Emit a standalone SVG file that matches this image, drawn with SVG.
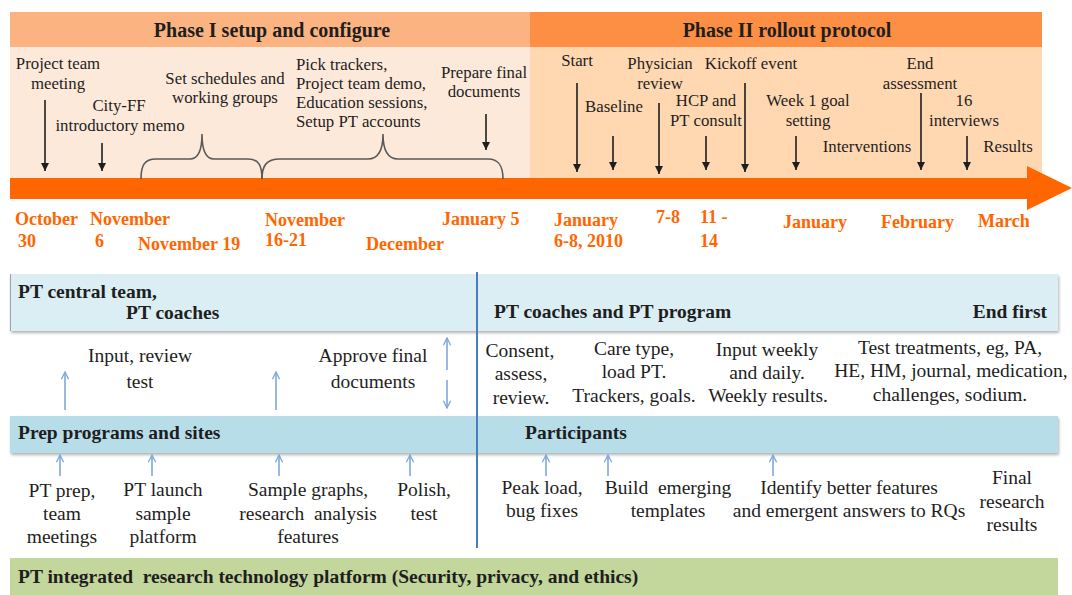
<svg xmlns="http://www.w3.org/2000/svg" width="1072" height="595" viewBox="0 0 1072 595">
  <defs>
    <style>
      .t { font-family: "Liberation Serif", "Times New Roman", serif; fill: #1e1e1e; }
      .s16 { font-size: 16.8px; }
      .s18 { font-size: 19.5px; }
      .b { font-weight: bold; }
      .m { text-anchor: middle; }
      .e { text-anchor: end; }
      .pre { white-space: pre; }
      .hdr { font-size: 20px; font-weight: bold; }
      .date { font-family: "Liberation Serif", "Times New Roman", serif; font-size: 18px; font-weight: bold; fill: #FF6600; }
      .blk { stroke: #1e1e1e; stroke-width: 1.6; fill: none; marker-end: url(#headBlack); }
      .blu { stroke: #7FA8DA; stroke-width: 1.6; fill: none; marker-end: url(#headBlue); }
      .brace { stroke: #5a5a5a; stroke-width: 1.6; fill: none; }
    </style>
    <marker id="headBlack" viewBox="0 0 10 10" refX="10" refY="5" markerWidth="8" markerHeight="9" orient="auto" markerUnits="userSpaceOnUse">
      <path d="M0,0 L10,5 L0,10 z" fill="#1e1e1e"/>
    </marker>
    <marker id="headBlue" viewBox="0 0 10 10" refX="9" refY="5" markerWidth="9" markerHeight="11" orient="auto" markerUnits="userSpaceOnUse">
      <path d="M1,1 L9,5 L1,9" fill="none" stroke="#7FA8DA" stroke-width="1.5"/>
    </marker>
    <filter id="shadow" x="-2%" y="-20%" width="104%" height="150%">
      <feDropShadow dx="1" dy="2" stdDeviation="1.5" flood-color="#000" flood-opacity="0.3"/>
    </filter>
  </defs>

  <rect width="1072" height="595" fill="#ffffff"/>

  <!-- Phase panels -->
  <g id="phase1">
    <rect x="10" y="47" width="520" height="131" fill="#FDE9D9"/>
    <rect x="10" y="12" width="520" height="35" fill="#FBB381"/>
    <text class="t hdr m" x="272" y="37">Phase I setup and configure</text>
  </g>
  <g id="phase2">
    <rect x="530" y="47" width="512" height="131" fill="#FFD8B2"/>
    <rect x="530" y="12" width="512" height="35" fill="#FD8F44"/>
    <text class="t hdr m" x="787" y="37">Phase II rollout protocol</text>
  </g>

  <!-- Timeline bar -->
  <g id="timeline">
    <rect x="10" y="178" width="1018" height="21" fill="#FF6600"/>
    <polygon points="1027,166 1072,188 1027,210" fill="#FF6600"/>
  </g>

  <!-- Phase I events -->
  <g id="ev-project-meeting">
    <text class="t s16 m" x="58" y="69">Project team</text>
    <text class="t s16 m" x="58" y="89">meeting</text>
  </g>
  <g id="ev-memo">
    <text class="t s16 m" x="119" y="111">City-FF</text>
    <text class="t s16 m" x="120" y="131">introductory memo</text>
  </g>
  <g id="ev-schedules">
    <text class="t s16 m" x="225" y="84">Set schedules and</text>
    <text class="t s16 m" x="225" y="103">working groups</text>
  </g>
  <g id="ev-trackers">
    <text class="t s16" x="296" y="70">Pick trackers,</text>
    <text class="t s16" x="296" y="89">Project team demo,</text>
    <text class="t s16" x="296" y="108">Education sessions,</text>
    <text class="t s16" x="296" y="127">Setup PT accounts</text>
  </g>
  <g id="ev-final-docs">
    <text class="t s16 m" x="484" y="78">Prepare final</text>
    <text class="t s16 m" x="484" y="97">documents</text>
  </g>

  <!-- Phase II events -->
  <g id="ev-start"><text class="t s16 m" x="577" y="66">Start</text></g>
  <g id="ev-baseline"><text class="t s16 m" x="614" y="112">Baseline</text></g>
  <g id="ev-physician">
    <text class="t s16 m" x="660" y="69">Physician</text>
    <text class="t s16 m" x="660" y="89">review</text>
  </g>
  <g id="ev-hcp">
    <text class="t s16 m" x="706" y="106">HCP and</text>
    <text class="t s16 m" x="706" y="126">PT consult</text>
  </g>
  <g id="ev-kickoff"><text class="t s16 m" x="751" y="69">Kickoff event</text></g>
  <g id="ev-week1">
    <text class="t s16 m" x="808" y="106">Week 1 goal</text>
    <text class="t s16 m" x="808" y="126">setting</text>
  </g>
  <g id="ev-interventions"><text class="t s16 m" x="867" y="152">Interventions</text></g>
  <g id="ev-end">
    <text class="t s16 m" x="920" y="69">End</text>
    <text class="t s16 m" x="920" y="89">assessment</text>
  </g>
  <g id="ev-interviews">
    <text class="t s16 m" x="964" y="106">16</text>
    <text class="t s16 m" x="964" y="126">interviews</text>
  </g>
  <g id="ev-results"><text class="t s16 m" x="1008" y="152">Results</text></g>

  <!-- Dates under the timeline -->
  <g id="dates">
    <text class="date" x="15" y="225">October</text>
    <text class="date" x="18" y="247">30</text>
    <text class="date" x="90" y="225">November</text>
    <text class="date" x="95" y="247">6</text>
    <text class="date" x="138" y="250">November 19</text>
    <text class="date" x="265" y="226">November</text>
    <text class="date" x="265" y="246">16-21</text>
    <text class="date" x="366" y="250">December</text>
    <text class="date" x="442" y="225">January 5</text>
    <text class="date" x="554" y="226">January</text>
    <text class="date" x="554" y="247">6-8, 2010</text>
    <text class="date" x="656" y="223">7-8</text>
    <text class="date" x="700" y="223">11 -</text>
    <text class="date" x="700" y="247">14</text>
    <text class="date" x="783" y="228">January</text>
    <text class="date" x="881" y="228">February</text>
    <text class="date" x="978" y="227">March</text>
  </g>

  <!-- Role bands -->
  <g id="band-central">
    <rect x="10" y="274" width="1048" height="57" fill="#DBEEF4" filter="url(#shadow)"/>
    <line x1="10.5" y1="274" x2="10.5" y2="331" stroke="#9aa3ad" stroke-width="1"/>
    <text class="t s18 b" x="18" y="298">PT central team,</text>
    <text class="t s18 b" x="126" y="319">PT coaches</text>
    <text class="t s18 b" x="494" y="318">PT coaches and PT program</text>
    <text class="t s18 b e" x="1047" y="318">End first</text>
  </g>
  <g id="band-prep">
    <rect x="10" y="416" width="1048" height="37" fill="#B7DDE8" filter="url(#shadow)"/>
    <text class="t s18 b" x="18" y="439">Prep programs and sites</text>
    <text class="t s18 b" x="525" y="439">Participants</text>
  </g>
  <g id="band-platform">
    <rect x="10" y="558" width="1048" height="40" fill="#C3D69B"/>
    <text class="t s18 b pre" x="18" y="583">PT integrated  research technology platform (Security, privacy, and ethics)</text>
  </g>

  <!-- Activities between bands -->
  <g id="act-input-review">
    <text class="t s18 m" x="140" y="362">Input, review</text>
    <text class="t s18 m" x="140" y="388">test</text>
  </g>
  <g id="act-approve">
    <text class="t s18 m" x="373" y="362">Approve final</text>
    <text class="t s18 m" x="373" y="388">documents</text>
  </g>
  <g id="act-consent">
    <text class="t s18 m" x="520" y="357">Consent,</text>
    <text class="t s18 m" x="521" y="380">assess,</text>
    <text class="t s18 m" x="521" y="404">review.</text>
  </g>
  <g id="act-care">
    <text class="t s18 m" x="634" y="355">Care type,</text>
    <text class="t s18 m" x="634" y="378">load PT.</text>
    <text class="t s18 m" x="634" y="402">Trackers, goals.</text>
  </g>
  <g id="act-weekly">
    <text class="t s18 m" x="767" y="356">Input weekly</text>
    <text class="t s18 m" x="767" y="379">and daily.</text>
    <text class="t s18 m" x="768" y="402">Weekly results.</text>
  </g>
  <g id="act-treatments">
    <text class="t s18 m" x="950" y="354">Test treatments, eg, PA,</text>
    <text class="t s18 m" x="951" y="377">HE, HM, journal, medication,</text>
    <text class="t s18 m" x="950" y="401">challenges, sodium.</text>
  </g>

  <!-- Activities under the prep band -->
  <g id="act-prep">
    <text class="t s18 m" x="62" y="497">PT prep,</text>
    <text class="t s18 m" x="62" y="520">team</text>
    <text class="t s18 m" x="62" y="543">meetings</text>
  </g>
  <g id="act-launch">
    <text class="t s18 m" x="163" y="496">PT launch</text>
    <text class="t s18 m" x="163" y="520">sample</text>
    <text class="t s18 m" x="163" y="543">platform</text>
  </g>
  <g id="act-graphs">
    <text class="t s18 m" x="308" y="496">Sample graphs,</text>
    <text class="t s18 m pre" x="308" y="520">research  analysis</text>
    <text class="t s18 m" x="308" y="543">features</text>
  </g>
  <g id="act-polish">
    <text class="t s18 m" x="424" y="496">Polish,</text>
    <text class="t s18 m" x="424" y="520">test</text>
  </g>
  <g id="act-peak">
    <text class="t s18 m" x="542" y="494">Peak load,</text>
    <text class="t s18 m" x="542" y="517">bug fixes</text>
  </g>
  <g id="act-build">
    <text class="t s18 m pre" x="668" y="494">Build  emerging</text>
    <text class="t s18 m" x="668" y="517">templates</text>
  </g>
  <g id="act-identify">
    <text class="t s18 m" x="849" y="494">Identify better features</text>
    <text class="t s18 m" x="849" y="517">and emergent answers to RQs</text>
  </g>
  <g id="act-final">
    <text class="t s18 m" x="1012" y="484">Final</text>
    <text class="t s18 m" x="1012" y="508">research</text>
    <text class="t s18 m" x="1012" y="531">results</text>
  </g>

  <!-- Connectors -->
  <g id="connectors">
    <!-- phase I event pointers -->
    <line class="blk" x1="45" y1="100" x2="45" y2="171"/>
    <line class="blk" x1="102" y1="143" x2="102" y2="171"/>
    <line class="blk" x1="486" y1="114" x2="486" y2="150"/>
    <!-- phase I braces -->
    <path class="brace" d="M141,179 C141,166 144,159 156,159 L190,159 C198,159 202,150 202,134 C202,150 206,159 214,159 L248,159 C259,159 262,166 262,179"/>
    <path class="brace" d="M262,179 C262,166 266,159 280,159 L368,159 C378,159 383,150 383,134 C383,150 388,159 398,159 L488,159 C499,159 503,166 503,179"/>
    <!-- phase II event pointers -->
    <line class="blk" x1="577" y1="83" x2="577" y2="172"/>
    <line class="blk" x1="613" y1="136" x2="613" y2="170"/>
    <line class="blk" x1="659" y1="103" x2="659" y2="174"/>
    <line class="blk" x1="706" y1="136" x2="706" y2="170"/>
    <line class="blk" x1="745" y1="83" x2="745" y2="172"/>
    <line class="blk" x1="796" y1="136" x2="796" y2="170"/>
    <line class="blk" x1="921" y1="93" x2="921" y2="170"/>
    <line class="blk" x1="967" y1="136" x2="967" y2="170"/>
    <!-- phase divider through the bands -->
    <line x1="477" y1="272" x2="477" y2="548" stroke="#4A7EBB" stroke-width="2"/>
    <!-- feedback arrows between bands -->
    <line class="blu" x1="65" y1="410" x2="65" y2="372"/>
    <line class="blu" x1="276" y1="410" x2="276" y2="372"/>
    <line class="blu" x1="447" y1="370" x2="447" y2="338"/>
    <line class="blu" x1="447" y1="380" x2="447" y2="408"/>
    <!-- arrows up to the prep band -->
    <line class="blu" x1="60" y1="476" x2="60" y2="455"/>
    <line class="blu" x1="152" y1="476" x2="152" y2="455"/>
    <line class="blu" x1="279" y1="476" x2="279" y2="455"/>
    <line class="blu" x1="410" y1="476" x2="410" y2="455"/>
    <line class="blu" x1="546" y1="476" x2="546" y2="455"/>
    <line class="blu" x1="608" y1="476" x2="608" y2="455"/>
    <line class="blu" x1="773" y1="476" x2="773" y2="455"/>
  </g>
</svg>
